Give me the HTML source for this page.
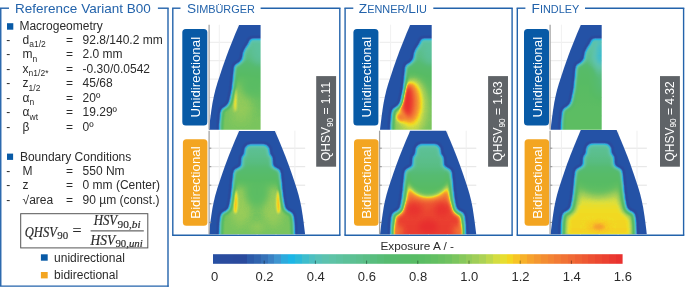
<!DOCTYPE html><html><head><meta charset="utf-8"><style>
html,body{margin:0;padding:0;background:#fff;}
svg{will-change:transform;}
svg{display:block;}
text{font-family:"Liberation Sans",sans-serif;}
</style></head><body>
<svg width="685" height="287" viewBox="0 0 685 287" xmlns="http://www.w3.org/2000/svg">
<defs>
<filter id="cm" x="0" y="0" width="1" height="1" color-interpolation-filters="sRGB"><feGaussianBlur stdDeviation="0.35"/><feComponentTransfer><feFuncR type="table" tableValues="0.1412 0.1630 0.1647 0.1647 0.1647 0.1667 0.1784 0.1931 0.2118 0.2294 0.2439 0.1992 0.1157 0.1471 0.2144 0.2824 0.3216 0.3545 0.3624 0.3678 0.3639 0.3608 0.3608 0.3592 0.3514 0.3444 0.3412 0.3379 0.3386 0.3402 0.3418 0.3435 0.3451 0.3591 0.3731 0.3898 0.4173 0.4471 0.4863 0.5314 0.5804 0.6235 0.6667 0.7353 0.8092 0.8856 0.9412 0.9660 0.9725 0.9660 0.9608 0.9562 0.9529 0.9510 0.9490 0.9451 0.9412 0.9373 0.9333 0.9294 0.9255 0.9216 0.9176 0.9137 0.9098"/><feFuncG type="table" tableValues="0.3216 0.2962 0.2931 0.2921 0.2910 0.3029 0.3559 0.3926 0.4471 0.5059 0.5725 0.6525 0.7078 0.7216 0.7346 0.7467 0.7545 0.7612 0.7631 0.7639 0.7600 0.7561 0.7522 0.7482 0.7443 0.7405 0.7373 0.7340 0.7340 0.7348 0.7356 0.7364 0.7373 0.7415 0.7457 0.7502 0.7561 0.7627 0.7725 0.7838 0.7961 0.8078 0.8196 0.8417 0.8627 0.8758 0.8627 0.8013 0.7294 0.6641 0.6196 0.5804 0.5412 0.5098 0.4784 0.4471 0.4157 0.3843 0.3529 0.3216 0.2902 0.2627 0.2353 0.2078 0.1804"/><feFuncB type="table" tableValues="0.6510 0.6219 0.6186 0.6176 0.6165 0.6265 0.6667 0.6863 0.7216 0.7647 0.8110 0.8612 0.8980 0.8686 0.8183 0.7765 0.7373 0.7004 0.6729 0.6459 0.6204 0.5957 0.5741 0.5514 0.5239 0.4967 0.4706 0.4444 0.4314 0.4216 0.4118 0.4020 0.3922 0.3894 0.3866 0.3835 0.3796 0.3750 0.3676 0.3603 0.3529 0.3451 0.3373 0.3029 0.2667 0.2183 0.1333 0.1307 0.1569 0.1699 0.1804 0.1902 0.2000 0.2039 0.2078 0.2078 0.2078 0.2039 0.2000 0.1961 0.1922 0.1902 0.1882 0.1843 0.1804"/><feFuncA type="identity"/></feComponentTransfer></filter>
<filter id="mb" x="-20%" y="-20%" width="140%" height="140%" color-interpolation-filters="sRGB"><feGaussianBlur stdDeviation="1.4"/><feComponentTransfer><feFuncR type="table" tableValues="0 1"/><feFuncG type="table" tableValues="0 1"/><feFuncB type="table" tableValues="0 1"/></feComponentTransfer></filter>
<filter id="rb" x="-20%" y="-20%" width="140%" height="140%" color-interpolation-filters="sRGB"><feGaussianBlur stdDeviation="1.6"/></filter>
<filter id="b1" x="-50%" y="-50%" width="200%" height="200%" color-interpolation-filters="sRGB"><feGaussianBlur stdDeviation="1"/></filter>
<filter id="b1_2" x="-50%" y="-50%" width="200%" height="200%" color-interpolation-filters="sRGB"><feGaussianBlur stdDeviation="1.2"/></filter>
<filter id="b1_5" x="-50%" y="-50%" width="200%" height="200%" color-interpolation-filters="sRGB"><feGaussianBlur stdDeviation="1.5"/></filter>
<filter id="b1_8" x="-50%" y="-50%" width="200%" height="200%" color-interpolation-filters="sRGB"><feGaussianBlur stdDeviation="1.8"/></filter>
<filter id="b2" x="-50%" y="-50%" width="200%" height="200%" color-interpolation-filters="sRGB"><feGaussianBlur stdDeviation="2"/></filter>
<filter id="b2_2" x="-50%" y="-50%" width="200%" height="200%" color-interpolation-filters="sRGB"><feGaussianBlur stdDeviation="2.2"/></filter>
<filter id="b2_5" x="-50%" y="-50%" width="200%" height="200%" color-interpolation-filters="sRGB"><feGaussianBlur stdDeviation="2.5"/></filter>
<filter id="b2_8" x="-50%" y="-50%" width="200%" height="200%" color-interpolation-filters="sRGB"><feGaussianBlur stdDeviation="2.8"/></filter>
<filter id="b3" x="-50%" y="-50%" width="200%" height="200%" color-interpolation-filters="sRGB"><feGaussianBlur stdDeviation="3"/></filter>
<filter id="b3_2" x="-50%" y="-50%" width="200%" height="200%" color-interpolation-filters="sRGB"><feGaussianBlur stdDeviation="3.2"/></filter>
<filter id="b3_5" x="-50%" y="-50%" width="200%" height="200%" color-interpolation-filters="sRGB"><feGaussianBlur stdDeviation="3.5"/></filter>
<filter id="b4" x="-50%" y="-50%" width="200%" height="200%" color-interpolation-filters="sRGB"><feGaussianBlur stdDeviation="4"/></filter>
<filter id="b4_5" x="-50%" y="-50%" width="200%" height="200%" color-interpolation-filters="sRGB"><feGaussianBlur stdDeviation="4.5"/></filter>
<filter id="b5" x="-50%" y="-50%" width="200%" height="200%" color-interpolation-filters="sRGB"><feGaussianBlur stdDeviation="5"/></filter>
<filter id="b6" x="-50%" y="-50%" width="200%" height="200%" color-interpolation-filters="sRGB"><feGaussianBlur stdDeviation="6"/></filter>
<filter id="b7" x="-50%" y="-50%" width="200%" height="200%" color-interpolation-filters="sRGB"><feGaussianBlur stdDeviation="7"/></filter>
<filter id="b8" x="-50%" y="-50%" width="200%" height="200%" color-interpolation-filters="sRGB"><feGaussianBlur stdDeviation="8"/></filter>
</defs>
<line x1="0.75" y1="8.2" x2="0.75" y2="286.1" stroke="#2363ab" stroke-width="1.4"/>
<line x1="0" y1="286.1" x2="168.7" y2="286.1" stroke="#2363ab" stroke-width="1.4"/>
<line x1="168.0" y1="8.2" x2="168.0" y2="286.8" stroke="#2363ab" stroke-width="1.4"/>
<line x1="0" y1="8.2" x2="9" y2="8.2" stroke="#2363ab" stroke-width="1.4"/>
<line x1="157.9" y1="8.2" x2="168.7" y2="8.2" stroke="#2363ab" stroke-width="1.4"/>
<text x="15.1" y="12.9" font-size="13.5" fill="#2363ab">Reference Variant B00</text>
<rect x="7" y="23.2" width="6.3" height="6.5" fill="#085aa6"/>
<text x="19.4" y="30.3" font-size="12" fill="#2b2b2b">Macrogeometry</text>
<text x="6.3" y="43.8" font-size="12" fill="#2b2b2b">-</text>
<text x="22.6" y="43.8" font-size="12" fill="#2b2b2b">d<tspan dy="3.2" font-size="8.5">a1/2</tspan></text>
<text x="66" y="43.8" font-size="12" fill="#2b2b2b">=</text>
<text x="82.6" y="43.8" font-size="12" fill="#2b2b2b">92.8/140.2 mm</text>
<text x="6.3" y="58.3" font-size="12" fill="#2b2b2b">-</text>
<text x="22.6" y="58.3" font-size="12" fill="#2b2b2b">m<tspan dy="3.2" font-size="8.5">n</tspan></text>
<text x="66" y="58.3" font-size="12" fill="#2b2b2b">=</text>
<text x="82.6" y="58.3" font-size="12" fill="#2b2b2b">2.0 mm</text>
<text x="6.3" y="72.8" font-size="12" fill="#2b2b2b">-</text>
<text x="22.6" y="72.8" font-size="12" fill="#2b2b2b">x<tspan dy="3.2" font-size="8.5">n1/2*</tspan></text>
<text x="66" y="72.8" font-size="12" fill="#2b2b2b">=</text>
<text x="82.6" y="72.8" font-size="12" fill="#2b2b2b">-0.30/0.0542</text>
<text x="6.3" y="87.3" font-size="12" fill="#2b2b2b">-</text>
<text x="22.6" y="87.3" font-size="12" fill="#2b2b2b">z<tspan dy="3.2" font-size="8.5">1/2</tspan></text>
<text x="66" y="87.3" font-size="12" fill="#2b2b2b">=</text>
<text x="82.6" y="87.3" font-size="12" fill="#2b2b2b">45/68</text>
<text x="6.3" y="101.8" font-size="12" fill="#2b2b2b">-</text>
<text x="22.6" y="101.8" font-size="12" fill="#2b2b2b">α<tspan dy="3.2" font-size="8.5">n</tspan></text>
<text x="66" y="101.8" font-size="12" fill="#2b2b2b">=</text>
<text x="82.6" y="101.8" font-size="12" fill="#2b2b2b">20º</text>
<text x="6.3" y="116.3" font-size="12" fill="#2b2b2b">-</text>
<text x="22.6" y="116.3" font-size="12" fill="#2b2b2b">α<tspan dy="3.2" font-size="8.5">wt</tspan></text>
<text x="66" y="116.3" font-size="12" fill="#2b2b2b">=</text>
<text x="82.6" y="116.3" font-size="12" fill="#2b2b2b">19.29º</text>
<text x="6.3" y="130.8" font-size="12" fill="#2b2b2b">-</text>
<text x="22.6" y="130.8" font-size="12" fill="#2b2b2b">β</text>
<text x="66" y="130.8" font-size="12" fill="#2b2b2b">=</text>
<text x="82.6" y="130.8" font-size="12" fill="#2b2b2b">0º</text>
<rect x="7" y="153.6" width="6.1" height="6.3" fill="#085aa6"/>
<text x="19.9" y="161.0" font-size="12" fill="#2b2b2b">Boundary Conditions</text>
<text x="6.3" y="175.1" font-size="12" fill="#2b2b2b">-</text>
<text x="22.6" y="175.1" font-size="12" fill="#2b2b2b">M</text>
<text x="66" y="175.1" font-size="12" fill="#2b2b2b">=</text>
<text x="82.6" y="175.1" font-size="12" fill="#2b2b2b">550 Nm</text>
<text x="6.3" y="189.4" font-size="12" fill="#2b2b2b">-</text>
<text x="22.6" y="189.4" font-size="12" fill="#2b2b2b">z</text>
<text x="66" y="189.4" font-size="12" fill="#2b2b2b">=</text>
<text x="82.6" y="189.4" font-size="12" fill="#2b2b2b">0 mm (Center)</text>
<text x="6.3" y="203.7" font-size="12" fill="#2b2b2b">-</text>
<text x="22.6" y="203.7" font-size="12" fill="#2b2b2b">√area</text>
<text x="66" y="203.7" font-size="12" fill="#2b2b2b">=</text>
<text x="82.6" y="203.7" font-size="12" fill="#2b2b2b">90 µm (const.)</text>
<rect x="20.7" y="213.7" width="127.1" height="34.2" fill="none" stroke="#555" stroke-width="1"/>
<text x="24.8" y="236.6" font-size="15.5" fill="#2b2b2b" style="font-family:'Liberation Serif',serif;font-style:italic" stroke="#2b2b2b" stroke-width="0.2" textLength="32.1" lengthAdjust="spacingAndGlyphs">QHSV</text>
<text x="57.2" y="238.6" font-size="11" fill="#2b2b2b" style="font-family:'Liberation Serif',serif;font-style:normal" stroke="#2b2b2b" stroke-width="0.15" textLength="10.9" lengthAdjust="spacingAndGlyphs">90</text>
<text x="72.6" y="236.0" font-size="16" fill="#2b2b2b" style="font-family:'Liberation Serif',serif;font-style:normal" stroke="#2b2b2b" stroke-width="0.15" textLength="9" lengthAdjust="spacingAndGlyphs">=</text>
<line x1="90.6" y1="230.9" x2="143.8" y2="230.9" stroke="#2b2b2b" stroke-width="0.9"/>
<text x="93.7" y="225.4" font-size="15.5" fill="#2b2b2b" style="font-family:'Liberation Serif',serif;font-style:italic" stroke="#2b2b2b" stroke-width="0.2" textLength="23.5" lengthAdjust="spacingAndGlyphs">HSV</text>
<text x="117.6" y="227.6" font-size="11" fill="#2b2b2b" style="font-family:'Liberation Serif',serif;font-style:italic" stroke="#2b2b2b" stroke-width="0.2" textLength="23" lengthAdjust="spacingAndGlyphs"><tspan style="font-family:'Liberation Serif',serif;font-style:normal" stroke="#2b2b2b" stroke-width="0.15">90,</tspan>bi</text>
<text x="90.6" y="244.8" font-size="15.5" fill="#2b2b2b" style="font-family:'Liberation Serif',serif;font-style:italic" stroke="#2b2b2b" stroke-width="0.2" textLength="24.5" lengthAdjust="spacingAndGlyphs">HSV</text>
<text x="115.4" y="247.0" font-size="11" fill="#2b2b2b" style="font-family:'Liberation Serif',serif;font-style:italic" stroke="#2b2b2b" stroke-width="0.2" textLength="27.3" lengthAdjust="spacingAndGlyphs"><tspan style="font-family:'Liberation Serif',serif;font-style:normal" stroke="#2b2b2b" stroke-width="0.15">90,</tspan>uni</text>
<rect x="40.9" y="254.3" width="6.8" height="6.4" fill="#085aa6"/>
<text x="54.1" y="261.5" font-size="12" fill="#2b2b2b">unidirectional</text>
<rect x="40.9" y="272" width="6.8" height="6.4" fill="#f3a521"/>
<text x="54.1" y="279.2" font-size="12" fill="#2b2b2b">bidirectional</text>
<line x1="172.8" y1="8.2" x2="172.8" y2="235.3" stroke="#2363ab" stroke-width="1.4"/>
<line x1="339.8" y1="8.2" x2="339.8" y2="235.3" stroke="#2363ab" stroke-width="1.4"/>
<line x1="172.10000000000002" y1="235.3" x2="340.5" y2="235.3" stroke="#2363ab" stroke-width="1.4"/>
<line x1="172.10000000000002" y1="8.2" x2="180.5" y2="8.2" stroke="#2363ab" stroke-width="1.4"/>
<line x1="260.6" y1="8.2" x2="340.5" y2="8.2" stroke="#2363ab" stroke-width="1.4"/>
<text x="187.0" y="13.1" font-size="13.7" fill="#2363ab">S<tspan font-size="10.9">IMBÜRGER</tspan></text>
<line x1="209.1" y1="42.3" x2="260.2" y2="42.3" stroke="#ebebeb" stroke-width="1.0"/>
<line x1="209.1" y1="60.7" x2="260.2" y2="60.7" stroke="#ebebeb" stroke-width="1.0"/>
<line x1="209.1" y1="79.1" x2="260.2" y2="79.1" stroke="#ebebeb" stroke-width="1.0"/>
<line x1="209.1" y1="97.5" x2="260.2" y2="97.5" stroke="#ebebeb" stroke-width="1.0"/>
<line x1="209.1" y1="115.9" x2="260.2" y2="115.9" stroke="#ebebeb" stroke-width="1.0"/>
<line x1="219.3" y1="24.7" x2="219.3" y2="129.4" stroke="#f1f1f1" stroke-width="1.0"/>
<line x1="238.20000000000002" y1="24.7" x2="238.20000000000002" y2="129.4" stroke="#f1f1f1" stroke-width="1.0"/>
<line x1="209.1" y1="148.2" x2="305.2" y2="148.2" stroke="#e3e3e3" stroke-width="1.0"/>
<line x1="209.1" y1="166.7" x2="305.2" y2="166.7" stroke="#e3e3e3" stroke-width="1.0"/>
<line x1="209.1" y1="185.2" x2="305.2" y2="185.2" stroke="#e3e3e3" stroke-width="1.0"/>
<line x1="209.1" y1="203.8" x2="305.2" y2="203.8" stroke="#e3e3e3" stroke-width="1.0"/>
<line x1="209.1" y1="222.4" x2="305.2" y2="222.4" stroke="#e3e3e3" stroke-width="1.0"/>
<line x1="219.3" y1="130.7" x2="219.3" y2="234.3" stroke="#efefef" stroke-width="1.0"/>
<line x1="238.20000000000002" y1="130.7" x2="238.20000000000002" y2="234.3" stroke="#efefef" stroke-width="1.0"/>
<line x1="257.1" y1="130.7" x2="257.1" y2="234.3" stroke="#efefef" stroke-width="1.0"/>
<line x1="276.0" y1="130.7" x2="276.0" y2="234.3" stroke="#efefef" stroke-width="1.0"/>
<line x1="294.9" y1="130.7" x2="294.9" y2="234.3" stroke="#efefef" stroke-width="1.0"/>
<g transform="translate(0,25.000) scale(1,1.01257) translate(0,-25.000)"><clipPath id="co0"><path d="M239.10,25.00L235.40,33.50L231.90,42.00L228.50,50.50L225.30,59.00L222.30,67.50L219.60,75.50L217.30,82.50L215.40,89.00L213.80,95.50L212.50,102.00L211.40,109.00L210.40,116.00L209.60,122.50L208.90,128.40L305.10,128.40L304.40,122.50L303.60,116.00L302.60,109.00L301.50,102.00L300.20,95.50L298.60,89.00L296.70,82.50L294.40,75.50L291.70,67.50L288.70,59.00L285.50,50.50L282.10,42.00L278.60,33.50L274.90,25.00Z"/></clipPath><mask id="mi0" maskUnits="userSpaceOnUse" x="197.0" y="19.0" width="120" height="115.4"><path d="M252.33,40.50L251.25,41.58L250.29,44.45L248.26,47.12L246.30,50.39L245.05,53.51L244.31,59.31L241.89,62.34L239.62,64.61L236.99,65.64L236.25,66.71L235.59,74.19L234.18,88.31L232.66,95.41L231.61,100.64L229.66,104.65L227.24,107.20L223.39,109.35L222.57,112.17L221.60,123.10L221.43,134.40L292.57,134.40L292.40,123.10L291.43,112.17L290.61,109.35L286.76,107.20L284.34,104.65L282.39,100.64L281.34,95.41L279.82,88.31L278.41,74.19L277.75,66.71L277.01,65.64L274.38,64.61L272.11,62.34L269.69,59.31L268.95,53.51L267.70,50.39L265.74,47.12L263.71,44.45L262.75,41.58L261.67,40.50Z" fill="#fff" filter="url(#mb)"/></mask><clipPath id="cc0"><rect x="197.0" y="20.0" width="63.6" height="113.4"/></clipPath><g clip-path="url(#cc0)"><g clip-path="url(#co0)"><g filter="url(#cm)"><rect x="197.0" y="19.0" width="120" height="115.4" fill="#000"/><path d="M252.33,40.50L251.25,41.58L250.29,44.45L248.26,47.12L246.30,50.39L245.05,53.51L244.31,59.31L241.89,62.34L239.62,64.61L236.99,65.64L236.25,66.71L235.59,74.19L234.18,88.31L232.66,95.41L231.61,100.64L229.66,104.65L227.24,107.20L223.39,109.35L222.57,112.17L221.60,123.10L221.43,134.40L292.57,134.40L292.40,123.10L291.43,112.17L290.61,109.35L286.76,107.20L284.34,104.65L282.39,100.64L281.34,95.41L279.82,88.31L278.41,74.19L277.75,66.71L277.01,65.64L274.38,64.61L272.11,62.34L269.69,59.31L268.95,53.51L267.70,50.39L265.74,47.12L263.71,44.45L262.75,41.58L261.67,40.50Z" fill="#363636" stroke="#363636" stroke-width="5.4" stroke-linejoin="round" filter="url(#rb)"/><g mask="url(#mi0)"><linearGradient id="lg0" gradientUnits="userSpaceOnUse" x1="0" y1="19.0" x2="0" y2="134.4"><stop offset="0.1213" stop-color="#505050"/><stop offset="0.2253" stop-color="#585858"/><stop offset="0.3293" stop-color="#636363"/><stop offset="0.4419" stop-color="#797979"/><stop offset="0.5719" stop-color="#868686"/><stop offset="0.7019" stop-color="#8f8f8f"/><stop offset="0.8752" stop-color="#979797"/><stop offset="1.0052" stop-color="#979797"/></linearGradient><rect x="197.0" y="19.0" width="120" height="115.4" fill="url(#lg0)"/><ellipse cx="259.00" cy="47.00" rx="7" ry="18" fill="#505050" filter="url(#b4)"/><ellipse cx="241.00" cy="101.00" rx="13" ry="21" fill="#9f9f9f" filter="url(#b5)"/><ellipse cx="235.20" cy="99.00" rx="1.8" ry="12" fill="#b7b7b7" filter="url(#b1_2)"/><ellipse cx="252.00" cy="85.00" rx="10" ry="10" fill="#808080" filter="url(#b5)"/></g></g></g></g></g>
<g transform="translate(0,131.000) scale(1,0.99903) translate(0,-131.000)"><clipPath id="co1"><path d="M239.10,131.00L235.40,139.50L231.90,148.00L228.50,156.50L225.30,165.00L222.30,173.50L219.60,181.50L217.30,188.50L215.40,195.00L213.80,201.50L212.50,208.00L211.40,215.00L210.40,222.00L209.60,228.50L208.90,234.40L305.10,234.40L304.40,228.50L303.60,222.00L302.60,215.00L301.50,208.00L300.20,201.50L298.60,195.00L296.70,188.50L294.40,181.50L291.70,173.50L288.70,165.00L285.50,156.50L282.10,148.00L278.60,139.50L274.90,131.00Z"/></clipPath><mask id="mi1" maskUnits="userSpaceOnUse" x="197.0" y="125.0" width="120" height="115.4"><path d="M249.87,146.40L248.30,147.19L246.75,149.15L246.34,155.18L244.00,157.53L243.68,158.08L243.37,166.23L240.81,168.93L237.35,170.66L236.10,171.38L235.66,172.49L234.89,179.20L233.79,191.22L232.78,199.31L231.44,206.50L230.23,210.14L227.09,212.91L223.48,214.49L222.56,216.98L221.80,223.15L221.26,240.40L292.74,240.40L292.20,223.15L291.44,216.98L290.52,214.49L286.91,212.91L283.77,210.14L282.56,206.50L281.22,199.31L280.21,191.22L279.11,179.20L278.34,172.49L277.90,171.38L276.65,170.66L273.19,168.93L270.63,166.23L270.32,158.08L270.00,157.53L267.66,155.18L267.25,149.15L265.70,147.19L264.13,146.40Z" fill="#fff" filter="url(#mb)"/></mask><g clip-path="url(#co1)"><g filter="url(#cm)"><rect x="197.0" y="125.0" width="120" height="115.4" fill="#000"/><path d="M249.87,146.40L248.30,147.19L246.75,149.15L246.34,155.18L244.00,157.53L243.68,158.08L243.37,166.23L240.81,168.93L237.35,170.66L236.10,171.38L235.66,172.49L234.89,179.20L233.79,191.22L232.78,199.31L231.44,206.50L230.23,210.14L227.09,212.91L223.48,214.49L222.56,216.98L221.80,223.15L221.26,240.40L292.74,240.40L292.20,223.15L291.44,216.98L290.52,214.49L286.91,212.91L283.77,210.14L282.56,206.50L281.22,199.31L280.21,191.22L279.11,179.20L278.34,172.49L277.90,171.38L276.65,170.66L273.19,168.93L270.63,166.23L270.32,158.08L270.00,157.53L267.66,155.18L267.25,149.15L265.70,147.19L264.13,146.40Z" fill="#363636" stroke="#363636" stroke-width="5.4" stroke-linejoin="round" filter="url(#rb)"/><g mask="url(#mi1)"><linearGradient id="lg1" gradientUnits="userSpaceOnUse" x1="0" y1="125.0" x2="0" y2="240.4"><stop offset="0.1213" stop-color="#505050"/><stop offset="0.2253" stop-color="#585858"/><stop offset="0.3293" stop-color="#636363"/><stop offset="0.4419" stop-color="#797979"/><stop offset="0.5719" stop-color="#868686"/><stop offset="0.7019" stop-color="#8f8f8f"/><stop offset="0.8752" stop-color="#979797"/><stop offset="1.0052" stop-color="#979797"/></linearGradient><rect x="197.0" y="125.0" width="120" height="115.4" fill="url(#lg1)"/><ellipse cx="241.00" cy="205.00" rx="13" ry="21" fill="#a1a1a1" filter="url(#b5)"/><ellipse cx="273.00" cy="205.00" rx="13" ry="21" fill="#a1a1a1" filter="url(#b5)"/><ellipse cx="235.50" cy="202.00" rx="2.2" ry="12" fill="#bfbfbf" filter="url(#b1_2)"/><ellipse cx="278.50" cy="202.00" rx="2.2" ry="12" fill="#bfbfbf" filter="url(#b1_2)"/><ellipse cx="257.00" cy="193.00" rx="10" ry="12" fill="#838383" filter="url(#b5)"/><ellipse cx="257.00" cy="227.00" rx="7" ry="5" fill="#9f9f9f" filter="url(#b3)"/></g></g></g></g>
<line x1="209.1" y1="24.7" x2="209.1" y2="129.4" stroke="#a4a4a4" stroke-width="1.3"/>
<line x1="209.1" y1="130.7" x2="209.1" y2="234.3" stroke="#a4a4a4" stroke-width="1.3"/>
<line x1="209.1" y1="148.2" x2="211.29999999999998" y2="148.2" stroke="#8a8a8a" stroke-width="0.9"/>
<line x1="209.1" y1="166.7" x2="211.29999999999998" y2="166.7" stroke="#8a8a8a" stroke-width="0.9"/>
<line x1="209.1" y1="185.2" x2="211.29999999999998" y2="185.2" stroke="#8a8a8a" stroke-width="0.9"/>
<line x1="209.1" y1="203.8" x2="211.29999999999998" y2="203.8" stroke="#8a8a8a" stroke-width="0.9"/>
<line x1="209.1" y1="222.4" x2="211.29999999999998" y2="222.4" stroke="#8a8a8a" stroke-width="0.9"/>
<rect x="182.3" y="28.9" width="25" height="96.6" rx="3.5" fill="#085aa6"/>
<text transform="translate(200.00,77.2) rotate(-90)" text-anchor="middle" font-size="13.3" fill="#fff">Unidirectional</text>
<rect x="182.90" y="139.2" width="24.5" height="86.6" rx="3.5" fill="#f3a521"/>
<text transform="translate(200.30,182.5) rotate(-90)" text-anchor="middle" font-size="13.3" fill="#fff">Bidirectional</text>
<rect x="316.2" y="76.1" width="19.9" height="90.6" fill="#5f6367"/>
<text transform="translate(330.10,121.4) rotate(-90)" text-anchor="middle" font-size="12" fill="#fff">QHSV<tspan dy="2.5" font-size="8.2">90</tspan><tspan dy="-2.5"> = 1.11</tspan></text>
<line x1="345.1" y1="8.2" x2="345.1" y2="235.3" stroke="#2363ab" stroke-width="1.4"/>
<line x1="512.1" y1="8.2" x2="512.1" y2="235.3" stroke="#2363ab" stroke-width="1.4"/>
<line x1="344.40000000000003" y1="235.3" x2="512.8000000000001" y2="235.3" stroke="#2363ab" stroke-width="1.4"/>
<line x1="344.40000000000003" y1="8.2" x2="353.3" y2="8.2" stroke="#2363ab" stroke-width="1.4"/>
<line x1="433.3" y1="8.2" x2="512.8000000000001" y2="8.2" stroke="#2363ab" stroke-width="1.4"/>
<text x="358.8" y="13.1" font-size="13.7" fill="#2363ab">Z<tspan font-size="10.9">ENNER/</tspan>L<tspan font-size="10.9">IU</tspan></text>
<line x1="379.6" y1="42.3" x2="431.29999999999995" y2="42.3" stroke="#ebebeb" stroke-width="1.0"/>
<line x1="379.6" y1="60.7" x2="431.29999999999995" y2="60.7" stroke="#ebebeb" stroke-width="1.0"/>
<line x1="379.6" y1="79.1" x2="431.29999999999995" y2="79.1" stroke="#ebebeb" stroke-width="1.0"/>
<line x1="379.6" y1="97.5" x2="431.29999999999995" y2="97.5" stroke="#ebebeb" stroke-width="1.0"/>
<line x1="379.6" y1="115.9" x2="431.29999999999995" y2="115.9" stroke="#ebebeb" stroke-width="1.0"/>
<line x1="390.6" y1="24.7" x2="390.6" y2="129.4" stroke="#f1f1f1" stroke-width="1.0"/>
<line x1="409.5" y1="24.7" x2="409.5" y2="129.4" stroke="#f1f1f1" stroke-width="1.0"/>
<line x1="379.6" y1="148.2" x2="476.29999999999995" y2="148.2" stroke="#e3e3e3" stroke-width="1.0"/>
<line x1="379.6" y1="166.7" x2="476.29999999999995" y2="166.7" stroke="#e3e3e3" stroke-width="1.0"/>
<line x1="379.6" y1="185.2" x2="476.29999999999995" y2="185.2" stroke="#e3e3e3" stroke-width="1.0"/>
<line x1="379.6" y1="203.8" x2="476.29999999999995" y2="203.8" stroke="#e3e3e3" stroke-width="1.0"/>
<line x1="379.6" y1="222.4" x2="476.29999999999995" y2="222.4" stroke="#e3e3e3" stroke-width="1.0"/>
<line x1="390.6" y1="130.7" x2="390.6" y2="234.3" stroke="#efefef" stroke-width="1.0"/>
<line x1="409.5" y1="130.7" x2="409.5" y2="234.3" stroke="#efefef" stroke-width="1.0"/>
<line x1="428.40000000000003" y1="130.7" x2="428.40000000000003" y2="234.3" stroke="#efefef" stroke-width="1.0"/>
<line x1="447.3" y1="130.7" x2="447.3" y2="234.3" stroke="#efefef" stroke-width="1.0"/>
<line x1="466.20000000000005" y1="130.7" x2="466.20000000000005" y2="234.3" stroke="#efefef" stroke-width="1.0"/>
<g transform="translate(0,25.000) scale(1,1.01257) translate(0,-25.000)"><clipPath id="co2"><path d="M410.20,25.00L406.50,33.50L403.00,42.00L399.60,50.50L396.40,59.00L393.40,67.50L390.70,75.50L388.40,82.50L386.50,89.00L384.90,95.50L383.60,102.00L382.50,109.00L381.50,116.00L380.70,122.50L380.00,128.40L476.20,128.40L475.50,122.50L474.70,116.00L473.70,109.00L472.60,102.00L471.30,95.50L469.70,89.00L467.80,82.50L465.50,75.50L462.80,67.50L459.80,59.00L456.60,50.50L453.20,42.00L449.70,33.50L446.00,25.00Z"/></clipPath><mask id="mi2" maskUnits="userSpaceOnUse" x="368.1" y="19.0" width="120" height="115.4"><path d="M423.43,40.50L422.35,41.58L421.39,44.45L419.36,47.12L417.40,50.39L416.15,53.51L415.41,59.31L412.99,62.34L410.72,64.61L408.09,65.64L407.35,66.71L406.69,74.19L405.28,88.31L403.76,95.41L402.71,100.64L400.76,104.65L398.34,107.20L394.49,109.35L393.67,112.17L392.70,123.10L392.53,134.40L463.67,134.40L463.50,123.10L462.53,112.17L461.71,109.35L457.86,107.20L455.44,104.65L453.49,100.64L452.44,95.41L450.92,88.31L449.51,74.19L448.85,66.71L448.11,65.64L445.48,64.61L443.21,62.34L440.79,59.31L440.05,53.51L438.80,50.39L436.84,47.12L434.81,44.45L433.85,41.58L432.77,40.50Z" fill="#fff" filter="url(#mb)"/></mask><clipPath id="cc2"><rect x="368.1" y="20.0" width="63.6" height="113.4"/></clipPath><g clip-path="url(#cc2)"><g clip-path="url(#co2)"><g filter="url(#cm)"><rect x="368.1" y="19.0" width="120" height="115.4" fill="#000"/><path d="M423.43,40.50L422.35,41.58L421.39,44.45L419.36,47.12L417.40,50.39L416.15,53.51L415.41,59.31L412.99,62.34L410.72,64.61L408.09,65.64L407.35,66.71L406.69,74.19L405.28,88.31L403.76,95.41L402.71,100.64L400.76,104.65L398.34,107.20L394.49,109.35L393.67,112.17L392.70,123.10L392.53,134.40L463.67,134.40L463.50,123.10L462.53,112.17L461.71,109.35L457.86,107.20L455.44,104.65L453.49,100.64L452.44,95.41L450.92,88.31L449.51,74.19L448.85,66.71L448.11,65.64L445.48,64.61L443.21,62.34L440.79,59.31L440.05,53.51L438.80,50.39L436.84,47.12L434.81,44.45L433.85,41.58L432.77,40.50Z" fill="#363636" stroke="#363636" stroke-width="5.4" stroke-linejoin="round" filter="url(#rb)"/><g mask="url(#mi2)"><linearGradient id="lg2" gradientUnits="userSpaceOnUse" x1="0" y1="19.0" x2="0" y2="134.4"><stop offset="0.1213" stop-color="#505050"/><stop offset="0.2253" stop-color="#585858"/><stop offset="0.3293" stop-color="#636363"/><stop offset="0.4419" stop-color="#797979"/><stop offset="0.5719" stop-color="#868686"/><stop offset="0.7019" stop-color="#8f8f8f"/><stop offset="0.8752" stop-color="#979797"/><stop offset="1.0052" stop-color="#979797"/></linearGradient><rect x="368.1" y="19.0" width="120" height="115.4" fill="url(#lg2)"/><ellipse cx="430.10" cy="47.00" rx="7" ry="18" fill="#505050" filter="url(#b4)"/><ellipse cx="408.10" cy="124.00" rx="12" ry="7" fill="#acacac" filter="url(#b4)"/><ellipse cx="413.10" cy="103.00" rx="14" ry="27" fill="#b3b3b3" filter="url(#b4)"/><ellipse cx="409.60" cy="102.00" rx="9" ry="19" fill="#dcdcdc" filter="url(#b3)"/><ellipse cx="407.60" cy="100.00" rx="5" ry="15" fill="#ffffff" filter="url(#b2_5)"/><ellipse cx="401.10" cy="116.00" rx="5" ry="4" fill="#d7d7d7" filter="url(#b2)"/></g></g></g></g></g>
<g transform="translate(0,130.800) scale(1,1.00097) translate(0,-130.800)"><clipPath id="co3"><path d="M410.20,130.80L406.50,139.30L403.00,147.80L399.60,156.30L396.40,164.80L393.40,173.30L390.70,181.30L388.40,188.30L386.50,194.80L384.90,201.30L383.60,207.80L382.50,214.80L381.50,221.80L380.70,228.30L380.00,234.20L476.20,234.20L475.50,228.30L474.70,221.80L473.70,214.80L472.60,207.80L471.30,201.30L469.70,194.80L467.80,188.30L465.50,181.30L462.80,173.30L459.80,164.80L456.60,156.30L453.20,147.80L449.70,139.30L446.00,130.80Z"/></clipPath><mask id="mi3" maskUnits="userSpaceOnUse" x="368.1" y="124.80000000000001" width="120" height="115.4"><path d="M420.97,146.20L419.40,146.99L417.85,148.95L417.44,154.98L415.10,157.33L414.78,157.88L414.47,166.03L411.91,168.73L408.45,170.46L407.20,171.18L406.76,172.29L405.99,179.00L404.89,191.02L403.88,199.11L402.54,206.30L401.33,209.94L398.19,212.71L394.58,214.29L393.66,216.78L392.90,222.95L392.36,240.20L463.84,240.20L463.30,222.95L462.54,216.78L461.62,214.29L458.01,212.71L454.87,209.94L453.66,206.30L452.32,199.11L451.31,191.02L450.21,179.00L449.44,172.29L449.00,171.18L447.75,170.46L444.29,168.73L441.73,166.03L441.42,157.88L441.10,157.33L438.76,154.98L438.35,148.95L436.80,146.99L435.23,146.20Z" fill="#fff" filter="url(#mb)"/></mask><g clip-path="url(#co3)"><g filter="url(#cm)"><rect x="368.1" y="124.80000000000001" width="120" height="115.4" fill="#000"/><path d="M420.97,146.20L419.40,146.99L417.85,148.95L417.44,154.98L415.10,157.33L414.78,157.88L414.47,166.03L411.91,168.73L408.45,170.46L407.20,171.18L406.76,172.29L405.99,179.00L404.89,191.02L403.88,199.11L402.54,206.30L401.33,209.94L398.19,212.71L394.58,214.29L393.66,216.78L392.90,222.95L392.36,240.20L463.84,240.20L463.30,222.95L462.54,216.78L461.62,214.29L458.01,212.71L454.87,209.94L453.66,206.30L452.32,199.11L451.31,191.02L450.21,179.00L449.44,172.29L449.00,171.18L447.75,170.46L444.29,168.73L441.73,166.03L441.42,157.88L441.10,157.33L438.76,154.98L438.35,148.95L436.80,146.99L435.23,146.20Z" fill="#363636" stroke="#363636" stroke-width="5.4" stroke-linejoin="round" filter="url(#rb)"/><g mask="url(#mi3)"><linearGradient id="lg3" gradientUnits="userSpaceOnUse" x1="0" y1="124.80000000000001" x2="0" y2="240.20000000000002"><stop offset="0.1213" stop-color="#505050"/><stop offset="0.2253" stop-color="#565656"/><stop offset="0.3553" stop-color="#606060"/><stop offset="0.4679" stop-color="#707070"/><stop offset="0.5546" stop-color="#808080"/><stop offset="0.7019" stop-color="#878787"/><stop offset="1.0052" stop-color="#878787"/></linearGradient><rect x="368.1" y="124.80000000000001" width="120" height="115.4" fill="url(#lg3)"/><linearGradient id="hg3_9" gradientUnits="userSpaceOnUse" x1="0" y1="124.80000000000001" x2="0" y2="240.20000000000002"><stop offset="0.5286" stop-color="#cfcfcf"/><stop offset="0.6239" stop-color="#dcdcdc"/><stop offset="0.6932" stop-color="#ececec"/><stop offset="0.7799" stop-color="#f4f4f4"/><stop offset="0.8752" stop-color="#f7f7f7"/></linearGradient><mask id="wfhg3_9" maskUnits="userSpaceOnUse" x="368.1" y="124.80000000000001" width="120" height="115.4"><path d="M420.97,146.20L419.40,146.99L417.85,148.95L417.44,154.98L415.10,157.33L414.78,157.88L414.47,166.03L411.91,168.73L408.45,170.46L407.20,171.18L406.76,172.29L405.99,179.00L404.89,191.02L403.88,199.11L402.54,206.30L401.33,209.94L398.19,212.71L394.58,214.29L393.66,216.78L392.90,222.95L392.36,240.20L463.84,240.20L463.30,222.95L462.54,216.78L461.62,214.29L458.01,212.71L454.87,209.94L453.66,206.30L452.32,199.11L451.31,191.02L450.21,179.00L449.44,172.29L449.00,171.18L447.75,170.46L444.29,168.73L441.73,166.03L441.42,157.88L441.10,157.33L438.76,154.98L438.35,148.95L436.80,146.99L435.23,146.20Z" fill="#fff" stroke="#000" stroke-width="4.5" filter="url(#b2)"/></mask><g mask="url(#wfhg3_9)"><path d="M368.10,170.30 L404.60,170.30 A23.5,27 0 0 0 451.60,170.30 L488.10,170.30 L488.10,242.20 L368.10,242.20 Z" fill="url(#hg3_9)" filter="url(#b3_2)"/></g><ellipse cx="428.10" cy="226.80" rx="10" ry="7" fill="#ffffff" filter="url(#b3)"/><ellipse cx="414.10" cy="209.80" rx="8" ry="7" fill="#fcfcfc" filter="url(#b3)"/><ellipse cx="442.10" cy="209.80" rx="8" ry="7" fill="#fcfcfc" filter="url(#b3)"/><ellipse cx="397.10" cy="230.80" rx="6" ry="6" fill="#d9d9d9" filter="url(#b3)"/><ellipse cx="459.10" cy="230.80" rx="6" ry="6" fill="#d9d9d9" filter="url(#b3)"/></g></g></g></g>
<line x1="379.6" y1="130.7" x2="379.6" y2="234.3" stroke="#a4a4a4" stroke-width="1.3"/>
<line x1="379.6" y1="148.2" x2="381.8" y2="148.2" stroke="#8a8a8a" stroke-width="0.9"/>
<line x1="379.6" y1="166.7" x2="381.8" y2="166.7" stroke="#8a8a8a" stroke-width="0.9"/>
<line x1="379.6" y1="185.2" x2="381.8" y2="185.2" stroke="#8a8a8a" stroke-width="0.9"/>
<line x1="379.6" y1="203.8" x2="381.8" y2="203.8" stroke="#8a8a8a" stroke-width="0.9"/>
<line x1="379.6" y1="222.4" x2="381.8" y2="222.4" stroke="#8a8a8a" stroke-width="0.9"/>
<rect x="353.4" y="28.9" width="25" height="96.6" rx="3.5" fill="#085aa6"/>
<text transform="translate(371.10,77.2) rotate(-90)" text-anchor="middle" font-size="13.3" fill="#fff">Unidirectional</text>
<rect x="354.00" y="139.2" width="24.5" height="86.6" rx="3.5" fill="#f3a521"/>
<text transform="translate(371.40,182.5) rotate(-90)" text-anchor="middle" font-size="13.3" fill="#fff">Bidirectional</text>
<rect x="488.1" y="76.1" width="19.9" height="90.6" fill="#5f6367"/>
<text transform="translate(502.00,121.4) rotate(-90)" text-anchor="middle" font-size="12" fill="#fff">QHSV<tspan dy="2.5" font-size="8.2">90</tspan><tspan dy="-2.5"> = 1.63</tspan></text>
<line x1="517.3" y1="8.2" x2="517.3" y2="235.3" stroke="#2363ab" stroke-width="1.4"/>
<line x1="683.6" y1="8.2" x2="683.6" y2="235.3" stroke="#2363ab" stroke-width="1.4"/>
<line x1="516.5999999999999" y1="235.3" x2="684.3000000000001" y2="235.3" stroke="#2363ab" stroke-width="1.4"/>
<line x1="516.5999999999999" y1="8.2" x2="525.4" y2="8.2" stroke="#2363ab" stroke-width="1.4"/>
<line x1="585.0" y1="8.2" x2="684.3000000000001" y2="8.2" stroke="#2363ab" stroke-width="1.4"/>
<text x="531.5" y="13.1" font-size="13.7" fill="#2363ab">F<tspan font-size="10.9">INDLEY</tspan></text>
<line x1="550.1" y1="42.3" x2="601.9" y2="42.3" stroke="#ebebeb" stroke-width="1.0"/>
<line x1="550.1" y1="60.7" x2="601.9" y2="60.7" stroke="#ebebeb" stroke-width="1.0"/>
<line x1="550.1" y1="79.1" x2="601.9" y2="79.1" stroke="#ebebeb" stroke-width="1.0"/>
<line x1="550.1" y1="97.5" x2="601.9" y2="97.5" stroke="#ebebeb" stroke-width="1.0"/>
<line x1="550.1" y1="115.9" x2="601.9" y2="115.9" stroke="#ebebeb" stroke-width="1.0"/>
<line x1="561.4" y1="24.7" x2="561.4" y2="129.4" stroke="#f1f1f1" stroke-width="1.0"/>
<line x1="580.3" y1="24.7" x2="580.3" y2="129.4" stroke="#f1f1f1" stroke-width="1.0"/>
<line x1="550.1" y1="148.2" x2="646.9" y2="148.2" stroke="#e3e3e3" stroke-width="1.0"/>
<line x1="550.1" y1="166.7" x2="646.9" y2="166.7" stroke="#e3e3e3" stroke-width="1.0"/>
<line x1="550.1" y1="185.2" x2="646.9" y2="185.2" stroke="#e3e3e3" stroke-width="1.0"/>
<line x1="550.1" y1="203.8" x2="646.9" y2="203.8" stroke="#e3e3e3" stroke-width="1.0"/>
<line x1="550.1" y1="222.4" x2="646.9" y2="222.4" stroke="#e3e3e3" stroke-width="1.0"/>
<line x1="561.4" y1="130.7" x2="561.4" y2="234.3" stroke="#efefef" stroke-width="1.0"/>
<line x1="580.3" y1="130.7" x2="580.3" y2="234.3" stroke="#efefef" stroke-width="1.0"/>
<line x1="599.1999999999999" y1="130.7" x2="599.1999999999999" y2="234.3" stroke="#efefef" stroke-width="1.0"/>
<line x1="618.1" y1="130.7" x2="618.1" y2="234.3" stroke="#efefef" stroke-width="1.0"/>
<line x1="637.0" y1="130.7" x2="637.0" y2="234.3" stroke="#efefef" stroke-width="1.0"/>
<g transform="translate(0,25.000) scale(1,1.01257) translate(0,-25.000)"><clipPath id="co4"><path d="M580.80,25.00L577.10,33.50L573.60,42.00L570.20,50.50L567.00,59.00L564.00,67.50L561.30,75.50L559.00,82.50L557.10,89.00L555.50,95.50L554.20,102.00L553.10,109.00L552.10,116.00L551.30,122.50L550.60,128.40L646.80,128.40L646.10,122.50L645.30,116.00L644.30,109.00L643.20,102.00L641.90,95.50L640.30,89.00L638.40,82.50L636.10,75.50L633.40,67.50L630.40,59.00L627.20,50.50L623.80,42.00L620.30,33.50L616.60,25.00Z"/></clipPath><mask id="mi4" maskUnits="userSpaceOnUse" x="538.7" y="19.0" width="120" height="115.4"><path d="M594.03,40.50L592.95,41.58L591.99,44.45L589.96,47.12L588.00,50.39L586.75,53.51L586.01,59.31L583.59,62.34L581.32,64.61L578.69,65.64L577.95,66.71L577.29,74.19L575.88,88.31L574.36,95.41L573.31,100.64L571.36,104.65L568.94,107.20L565.09,109.35L564.27,112.17L563.30,123.10L563.13,134.40L634.27,134.40L634.10,123.10L633.13,112.17L632.31,109.35L628.46,107.20L626.04,104.65L624.09,100.64L623.04,95.41L621.52,88.31L620.11,74.19L619.45,66.71L618.71,65.64L616.08,64.61L613.81,62.34L611.39,59.31L610.65,53.51L609.40,50.39L607.44,47.12L605.41,44.45L604.45,41.58L603.37,40.50Z" fill="#fff" filter="url(#mb)"/></mask><clipPath id="cc4"><rect x="538.7" y="20.0" width="63.0" height="113.4"/></clipPath><g clip-path="url(#cc4)"><g clip-path="url(#co4)"><g filter="url(#cm)"><rect x="538.7" y="19.0" width="120" height="115.4" fill="#000"/><path d="M594.03,40.50L592.95,41.58L591.99,44.45L589.96,47.12L588.00,50.39L586.75,53.51L586.01,59.31L583.59,62.34L581.32,64.61L578.69,65.64L577.95,66.71L577.29,74.19L575.88,88.31L574.36,95.41L573.31,100.64L571.36,104.65L568.94,107.20L565.09,109.35L564.27,112.17L563.30,123.10L563.13,134.40L634.27,134.40L634.10,123.10L633.13,112.17L632.31,109.35L628.46,107.20L626.04,104.65L624.09,100.64L623.04,95.41L621.52,88.31L620.11,74.19L619.45,66.71L618.71,65.64L616.08,64.61L613.81,62.34L611.39,59.31L610.65,53.51L609.40,50.39L607.44,47.12L605.41,44.45L604.45,41.58L603.37,40.50Z" fill="#363636" stroke="#363636" stroke-width="5.4" stroke-linejoin="round" filter="url(#rb)"/><g mask="url(#mi4)"><linearGradient id="lg4" gradientUnits="userSpaceOnUse" x1="0" y1="19.0" x2="0" y2="134.4"><stop offset="0.1213" stop-color="#505050"/><stop offset="0.2253" stop-color="#585858"/><stop offset="0.3293" stop-color="#636363"/><stop offset="0.4419" stop-color="#797979"/><stop offset="0.5719" stop-color="#808080"/><stop offset="0.7019" stop-color="#838383"/><stop offset="0.8752" stop-color="#868686"/><stop offset="1.0052" stop-color="#868686"/></linearGradient><rect x="538.7" y="19.0" width="120" height="115.4" fill="url(#lg4)"/><ellipse cx="596.70" cy="50.00" rx="10" ry="16" fill="#505050" filter="url(#b4)"/><ellipse cx="600.70" cy="57.00" rx="6" ry="18" fill="#393939" filter="url(#b3)"/><ellipse cx="601.70" cy="80.00" rx="6" ry="14" fill="#606060" filter="url(#b5)"/></g></g></g></g></g>
<g transform="translate(0,130.100) scale(1,1.00774) translate(0,-130.100)"><clipPath id="co5"><path d="M580.80,130.10L577.10,138.60L573.60,147.10L570.20,155.60L567.00,164.10L564.00,172.60L561.30,180.60L559.00,187.60L557.10,194.10L555.50,200.60L554.20,207.10L553.10,214.10L552.10,221.10L551.30,227.60L550.60,233.50L646.80,233.50L646.10,227.60L645.30,221.10L644.30,214.10L643.20,207.10L641.90,200.60L640.30,194.10L638.40,187.60L636.10,180.60L633.40,172.60L630.40,164.10L627.20,155.60L623.80,147.10L620.30,138.60L616.60,130.10Z"/></clipPath><mask id="mi5" maskUnits="userSpaceOnUse" x="538.7" y="124.1" width="120" height="115.4"><path d="M591.57,145.50L590.00,146.29L588.45,148.25L588.04,154.28L585.70,156.63L585.38,157.18L585.07,165.33L582.51,168.03L579.05,169.76L577.80,170.48L577.36,171.59L576.59,178.30L575.49,190.32L574.48,198.41L573.14,205.60L571.93,209.24L568.79,212.01L565.18,213.59L564.26,216.08L563.50,222.25L562.96,239.50L634.44,239.50L633.90,222.25L633.14,216.08L632.22,213.59L628.61,212.01L625.47,209.24L624.26,205.60L622.92,198.41L621.91,190.32L620.81,178.30L620.04,171.59L619.60,170.48L618.35,169.76L614.89,168.03L612.33,165.33L612.02,157.18L611.70,156.63L609.36,154.28L608.95,148.25L607.40,146.29L605.83,145.50Z" fill="#fff" filter="url(#mb)"/></mask><g clip-path="url(#co5)"><g filter="url(#cm)"><rect x="538.7" y="124.1" width="120" height="115.4" fill="#000"/><path d="M591.57,145.50L590.00,146.29L588.45,148.25L588.04,154.28L585.70,156.63L585.38,157.18L585.07,165.33L582.51,168.03L579.05,169.76L577.80,170.48L577.36,171.59L576.59,178.30L575.49,190.32L574.48,198.41L573.14,205.60L571.93,209.24L568.79,212.01L565.18,213.59L564.26,216.08L563.50,222.25L562.96,239.50L634.44,239.50L633.90,222.25L633.14,216.08L632.22,213.59L628.61,212.01L625.47,209.24L624.26,205.60L622.92,198.41L621.91,190.32L620.81,178.30L620.04,171.59L619.60,170.48L618.35,169.76L614.89,168.03L612.33,165.33L612.02,157.18L611.70,156.63L609.36,154.28L608.95,148.25L607.40,146.29L605.83,145.50Z" fill="#363636" stroke="#363636" stroke-width="5.4" stroke-linejoin="round" filter="url(#rb)"/><g mask="url(#mi5)"><linearGradient id="lg5" gradientUnits="userSpaceOnUse" x1="0" y1="124.1" x2="0" y2="239.5"><stop offset="0.1213" stop-color="#505050"/><stop offset="0.2253" stop-color="#585858"/><stop offset="0.3293" stop-color="#636363"/><stop offset="0.4419" stop-color="#797979"/><stop offset="0.5719" stop-color="#868686"/><stop offset="0.7019" stop-color="#8f8f8f"/><stop offset="0.8752" stop-color="#979797"/><stop offset="1.0052" stop-color="#979797"/></linearGradient><rect x="538.7" y="124.1" width="120" height="115.4" fill="url(#lg5)"/><linearGradient id="hg5_9" gradientUnits="userSpaceOnUse" x1="0" y1="124.1" x2="0" y2="239.5"><stop offset="0.5286" stop-color="#979797"/><stop offset="0.6153" stop-color="#acacac"/><stop offset="0.7019" stop-color="#b7b7b7"/><stop offset="0.9185" stop-color="#bababa"/></linearGradient><mask id="wfhg5_9" maskUnits="userSpaceOnUse" x="538.7" y="124.1" width="120" height="115.4"><path d="M591.57,145.50L590.00,146.29L588.45,148.25L588.04,154.28L585.70,156.63L585.38,157.18L585.07,165.33L582.51,168.03L579.05,169.76L577.80,170.48L577.36,171.59L576.59,178.30L575.49,190.32L574.48,198.41L573.14,205.60L571.93,209.24L568.79,212.01L565.18,213.59L564.26,216.08L563.50,222.25L562.96,239.50L634.44,239.50L633.90,222.25L633.14,216.08L632.22,213.59L628.61,212.01L625.47,209.24L624.26,205.60L622.92,198.41L621.91,190.32L620.81,178.30L620.04,171.59L619.60,170.48L618.35,169.76L614.89,168.03L612.33,165.33L612.02,157.18L611.70,156.63L609.36,154.28L608.95,148.25L607.40,146.29L605.83,145.50Z" fill="#fff" stroke="#000" stroke-width="6" filter="url(#b2_5)"/></mask><g mask="url(#wfhg5_9)"><path d="M538.70,168.10 L571.70,168.10 A27,27 0 0 0 625.70,168.10 L658.70,168.10 L658.70,241.50 L538.70,241.50 Z" fill="url(#hg5_9)" filter="url(#b4)"/></g><ellipse cx="598.70" cy="226.10" rx="11" ry="5" fill="#bfbfbf" filter="url(#b3)"/><ellipse cx="598.70" cy="226.10" rx="5" ry="2.5" fill="#c7c7c7" filter="url(#b1_5)"/></g></g></g></g>
<line x1="550.1" y1="24.7" x2="550.1" y2="129.4" stroke="#a4a4a4" stroke-width="1.3"/>
<line x1="550.1" y1="130.7" x2="550.1" y2="234.3" stroke="#a4a4a4" stroke-width="1.3"/>
<line x1="550.1" y1="148.2" x2="552.3000000000001" y2="148.2" stroke="#8a8a8a" stroke-width="0.9"/>
<line x1="550.1" y1="166.7" x2="552.3000000000001" y2="166.7" stroke="#8a8a8a" stroke-width="0.9"/>
<line x1="550.1" y1="185.2" x2="552.3000000000001" y2="185.2" stroke="#8a8a8a" stroke-width="0.9"/>
<line x1="550.1" y1="203.8" x2="552.3000000000001" y2="203.8" stroke="#8a8a8a" stroke-width="0.9"/>
<line x1="550.1" y1="222.4" x2="552.3000000000001" y2="222.4" stroke="#8a8a8a" stroke-width="0.9"/>
<rect x="524.0" y="28.9" width="25" height="96.6" rx="3.5" fill="#085aa6"/>
<text transform="translate(541.70,77.2) rotate(-90)" text-anchor="middle" font-size="13.3" fill="#fff">Unidirectional</text>
<rect x="524.60" y="139.2" width="24.5" height="86.6" rx="3.5" fill="#f3a521"/>
<text transform="translate(542.00,182.5) rotate(-90)" text-anchor="middle" font-size="13.3" fill="#fff">Bidirectional</text>
<rect x="660.0" y="76.1" width="19.9" height="90.6" fill="#5f6367"/>
<text transform="translate(673.90,121.4) rotate(-90)" text-anchor="middle" font-size="12" fill="#fff">QHSV<tspan dy="2.5" font-size="8.2">90</tspan><tspan dy="-2.5"> = 4.32</tspan></text>
<defs><linearGradient id="cbg" x1="0" y1="0" x2="1" y2="0"><stop offset="0.00000" stop-color="#274fa2"/><stop offset="0.01667" stop-color="#274fa2"/><stop offset="0.01667" stop-color="#2a4b9e"/><stop offset="0.03333" stop-color="#2a4b9e"/><stop offset="0.03333" stop-color="#2a4b9e"/><stop offset="0.05000" stop-color="#2a4b9e"/><stop offset="0.05000" stop-color="#2a4a9d"/><stop offset="0.06667" stop-color="#2a4a9d"/><stop offset="0.06667" stop-color="#2a4a9d"/><stop offset="0.08333" stop-color="#2a4a9d"/><stop offset="0.08333" stop-color="#2d5aa9"/><stop offset="0.10000" stop-color="#2d5aa9"/><stop offset="0.10000" stop-color="#3164af"/><stop offset="0.11667" stop-color="#3164af"/><stop offset="0.11667" stop-color="#3672b8"/><stop offset="0.13333" stop-color="#3672b8"/><stop offset="0.13333" stop-color="#3b82c4"/><stop offset="0.15000" stop-color="#3b82c4"/><stop offset="0.15000" stop-color="#3f95d0"/><stop offset="0.16667" stop-color="#3f95d0"/><stop offset="0.16667" stop-color="#2cabde"/><stop offset="0.18333" stop-color="#2cabde"/><stop offset="0.18333" stop-color="#1cb6e6"/><stop offset="0.20000" stop-color="#1cb6e6"/><stop offset="0.20000" stop-color="#2bb9d9"/><stop offset="0.21667" stop-color="#2bb9d9"/><stop offset="0.21667" stop-color="#3ebdcc"/><stop offset="0.23333" stop-color="#3ebdcc"/><stop offset="0.23333" stop-color="#4dbfc1"/><stop offset="0.25000" stop-color="#4dbfc1"/><stop offset="0.25000" stop-color="#57c1b7"/><stop offset="0.26667" stop-color="#57c1b7"/><stop offset="0.26667" stop-color="#5cc2ae"/><stop offset="0.28333" stop-color="#5cc2ae"/><stop offset="0.28333" stop-color="#5ec3a7"/><stop offset="0.30000" stop-color="#5ec3a7"/><stop offset="0.30000" stop-color="#5dc2a0"/><stop offset="0.31667" stop-color="#5dc2a0"/><stop offset="0.31667" stop-color="#5cc199"/><stop offset="0.33333" stop-color="#5cc199"/><stop offset="0.33333" stop-color="#5cc093"/><stop offset="0.35000" stop-color="#5cc093"/><stop offset="0.35000" stop-color="#5cbf8d"/><stop offset="0.36667" stop-color="#5cbf8d"/><stop offset="0.36667" stop-color="#5abe86"/><stop offset="0.38333" stop-color="#5abe86"/><stop offset="0.38333" stop-color="#58bd7e"/><stop offset="0.40000" stop-color="#58bd7e"/><stop offset="0.40000" stop-color="#57bc77"/><stop offset="0.41667" stop-color="#57bc77"/><stop offset="0.41667" stop-color="#56bb70"/><stop offset="0.43333" stop-color="#56bb70"/><stop offset="0.43333" stop-color="#56bb6d"/><stop offset="0.45000" stop-color="#56bb6d"/><stop offset="0.45000" stop-color="#57bb6b"/><stop offset="0.46667" stop-color="#57bb6b"/><stop offset="0.46667" stop-color="#57bc68"/><stop offset="0.48333" stop-color="#57bc68"/><stop offset="0.48333" stop-color="#58bc65"/><stop offset="0.50000" stop-color="#58bc65"/><stop offset="0.50000" stop-color="#5abd64"/><stop offset="0.51667" stop-color="#5abd64"/><stop offset="0.51667" stop-color="#5ebe63"/><stop offset="0.53333" stop-color="#5ebe63"/><stop offset="0.53333" stop-color="#62bf62"/><stop offset="0.55000" stop-color="#62bf62"/><stop offset="0.55000" stop-color="#69c061"/><stop offset="0.56667" stop-color="#69c061"/><stop offset="0.56667" stop-color="#70c260"/><stop offset="0.58333" stop-color="#70c260"/><stop offset="0.58333" stop-color="#7bc55e"/><stop offset="0.60000" stop-color="#7bc55e"/><stop offset="0.60000" stop-color="#87c85c"/><stop offset="0.61667" stop-color="#87c85c"/><stop offset="0.61667" stop-color="#94cb5a"/><stop offset="0.63333" stop-color="#94cb5a"/><stop offset="0.63333" stop-color="#a0ce58"/><stop offset="0.65000" stop-color="#a0ce58"/><stop offset="0.65000" stop-color="#acd255"/><stop offset="0.66667" stop-color="#acd255"/><stop offset="0.66667" stop-color="#bfd84c"/><stop offset="0.68333" stop-color="#bfd84c"/><stop offset="0.68333" stop-color="#d4dd41"/><stop offset="0.70000" stop-color="#d4dd41"/><stop offset="0.70000" stop-color="#e7de30"/><stop offset="0.71667" stop-color="#e7de30"/><stop offset="0.71667" stop-color="#f3d621"/><stop offset="0.73333" stop-color="#f3d621"/><stop offset="0.73333" stop-color="#f7c424"/><stop offset="0.75000" stop-color="#f7c424"/><stop offset="0.75000" stop-color="#f7b12a"/><stop offset="0.76667" stop-color="#f7b12a"/><stop offset="0.76667" stop-color="#f6a22d"/><stop offset="0.78333" stop-color="#f6a22d"/><stop offset="0.78333" stop-color="#f49730"/><stop offset="0.80000" stop-color="#f49730"/><stop offset="0.80000" stop-color="#f38d32"/><stop offset="0.81667" stop-color="#f38d32"/><stop offset="0.81667" stop-color="#f38434"/><stop offset="0.83333" stop-color="#f38434"/><stop offset="0.83333" stop-color="#f27b35"/><stop offset="0.85000" stop-color="#f27b35"/><stop offset="0.85000" stop-color="#f17335"/><stop offset="0.86667" stop-color="#f17335"/><stop offset="0.86667" stop-color="#f06a35"/><stop offset="0.88333" stop-color="#f06a35"/><stop offset="0.88333" stop-color="#ef6134"/><stop offset="0.90000" stop-color="#ef6134"/><stop offset="0.90000" stop-color="#ee5933"/><stop offset="0.91667" stop-color="#ee5933"/><stop offset="0.91667" stop-color="#ed5032"/><stop offset="0.93333" stop-color="#ed5032"/><stop offset="0.93333" stop-color="#ec4831"/><stop offset="0.95000" stop-color="#ec4831"/><stop offset="0.95000" stop-color="#eb4130"/><stop offset="0.96667" stop-color="#eb4130"/><stop offset="0.96667" stop-color="#ea3930"/><stop offset="0.98333" stop-color="#ea3930"/><stop offset="0.98333" stop-color="#e9322f"/><stop offset="1.00000" stop-color="#e9322f"/></linearGradient></defs>
<rect x="213.0" y="254.2" width="409.60" height="9.60" fill="url(#cbg)"/>
<line x1="264.2" y1="260.6" x2="264.2" y2="263.8" stroke="#20446e" stroke-width="1.0"/>
<line x1="315.4" y1="260.6" x2="315.4" y2="263.8" stroke="#317371" stroke-width="1.0"/>
<line x1="366.6" y1="260.6" x2="366.6" y2="263.8" stroke="#367250" stroke-width="1.0"/>
<line x1="417.8" y1="260.6" x2="417.8" y2="263.8" stroke="#35713c" stroke-width="1.0"/>
<line x1="469.0" y1="260.6" x2="469.0" y2="263.8" stroke="#597a36" stroke-width="1.0"/>
<line x1="520.2" y1="260.6" x2="520.2" y2="263.8" stroke="#957018" stroke-width="1.0"/>
<line x1="571.4" y1="260.6" x2="571.4" y2="263.8" stroke="#904020" stroke-width="1.0"/>
<text x="214.50" y="280.8" font-size="13" fill="#2b2b2b" text-anchor="middle">0</text>
<text x="264.50" y="280.8" font-size="13" fill="#2b2b2b" text-anchor="middle">0.2</text>
<text x="315.70" y="280.8" font-size="13" fill="#2b2b2b" text-anchor="middle">0.4</text>
<text x="366.90" y="280.8" font-size="13" fill="#2b2b2b" text-anchor="middle">0.6</text>
<text x="418.10" y="280.8" font-size="13" fill="#2b2b2b" text-anchor="middle">0.8</text>
<text x="469.30" y="280.8" font-size="13" fill="#2b2b2b" text-anchor="middle">1.0</text>
<text x="520.50" y="280.8" font-size="13" fill="#2b2b2b" text-anchor="middle">1.2</text>
<text x="571.70" y="280.8" font-size="13" fill="#2b2b2b" text-anchor="middle">1.4</text>
<text x="622.90" y="280.8" font-size="13" fill="#2b2b2b" text-anchor="middle">1.6</text>
<text x="417.2" y="249.9" font-size="11.8" fill="#2b2b2b" text-anchor="middle">Exposure A / -</text>
</svg></body></html>
